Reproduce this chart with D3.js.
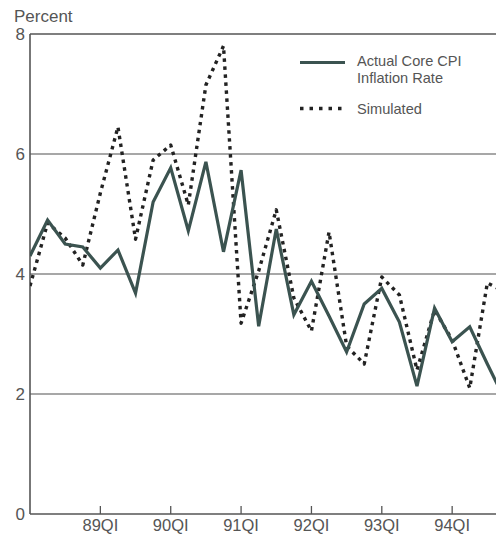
<!DOCTYPE html>
<html>
<head>
<meta charset="utf-8">
<script src="https://cdn.jsdelivr.net/npm/d3@7"></script>
<style>
  html, body { margin: 0; padding: 0; background: #fff; }
  svg { display: block; font-family: "Liberation Sans", Arial, Helvetica, sans-serif; }
</style>
</head>
<body>
<svg id="chart" width="496" height="535"></svg>
<script>
// ---- data ----
const quarters = ["88Q1","88Q2","88Q3","88Q4","89Q1","89Q2","89Q3","89Q4",
                  "90Q1","90Q2","90Q3","90Q4","91Q1","91Q2","91Q3","91Q4",
                  "92Q1","92Q2","92Q3","92Q4","93Q1","93Q2","93Q3","93Q4",
                  "94Q1","94Q2","94Q3","94Q4"];
const actual    = [4.3, 4.9, 4.5, 4.45, 4.1, 4.4, 3.68, 5.2, 5.77, 4.72, 5.87, 4.37, 5.73, 3.13,
                   4.75, 3.32, 3.88, 3.3, 2.7, 3.5, 3.76, 3.2, 2.13, 3.43, 2.87, 3.12, 2.5, 1.9];
const simulated = [3.8, 4.85, 4.6, 4.15, 5.35, 6.45, 4.58, 5.9, 6.15, 5.15, 7.15, 7.8, 3.18, 4.05,
                   5.07, 3.6, 3.05, 4.7, 2.8, 2.5, 3.95, 3.65, 2.4, 3.4, 2.9, 2.1, 3.85, 3.7];
const tickQuarters = ["89Q1","90Q1","91Q1","92Q1","93Q1","94Q1"];
const tickLabels   = ["89QI","90QI","91QI","92QI","93QI","94QI"];
const yTicks = [0, 2, 4, 6, 8];
const legendLabels = [["Actual Core CPI", "Inflation Rate"], ["Simulated"]];

// ---- layout ----
const W = 496, H = 535;
const mLeft = 30, mTop = 34, mBottom = 514;
const qStep = 17.59;

const svg = d3.select("#chart");
const x = d3.scalePoint().domain(quarters).range([mLeft, mLeft + qStep * (quarters.length - 1)]);
const y = d3.scaleLinear().domain([0, 8]).range([mBottom, mTop]);

svg.append("defs").append("clipPath").attr("id", "clip")
  .append("rect").attr("x", mLeft).attr("y", 0).attr("width", W - mLeft).attr("height", H);

// gridlines
svg.append("g").selectAll("line").data(yTicks.filter(d => d > 0)).join("line")
  .attr("x1", mLeft).attr("x2", W)
  .attr("y1", d => y(d)).attr("y2", d => y(d))
  .attr("stroke", d => d === 8 ? "#555" : "#8a8a8a")
  .attr("stroke-width", d => d === 8 ? 1.5 : 1.3);

// axes lines
svg.append("line").attr("x1", mLeft).attr("x2", mLeft).attr("y1", y(8)).attr("y2", y(0))
  .attr("stroke", "#555").attr("stroke-width", 1.6);
svg.append("line").attr("x1", mLeft).attr("x2", W).attr("y1", y(0)).attr("y2", y(0))
  .attr("stroke", "#555").attr("stroke-width", 1.6);

// x ticks
svg.append("g").selectAll("line").data(tickQuarters).join("line")
  .attr("x1", d => x(d)).attr("x2", d => x(d))
  .attr("y1", y(0) - 8).attr("y2", y(0))
  .attr("stroke", "#555").attr("stroke-width", 1.3);
svg.append("g").selectAll("text").data(tickQuarters).join("text")
  .attr("x", d => x(d)).attr("y", 530.5)
  .attr("text-anchor", "middle")
  .attr("font-size", 16.5).attr("fill", "#555")
  .text((d, i) => tickLabels[i]);

// y labels
svg.append("g").selectAll("text").data(yTicks).join("text")
  .attr("x", 25).attr("y", d => y(d))
  .attr("dy", "0.36em")
  .attr("text-anchor", "end")
  .attr("font-size", 17).attr("fill", "#555")
  .text(d => d);

svg.append("text").attr("x", 14).attr("y", 21.5)
  .attr("font-size", 17).attr("fill", "#555").text("Percent");

// lines
const line = d3.line().x((d, i) => x(quarters[i])).y(d => y(d));
const g = svg.append("g").attr("clip-path", "url(#clip)");
g.append("path").datum(simulated).attr("d", line)
  .attr("fill", "none").attr("stroke", "#222").attr("stroke-width", 3.4)
  .attr("stroke-dasharray", "3.5,4.5").attr("stroke-linejoin", "round");
g.append("path").datum(actual).attr("d", line)
  .attr("fill", "none").attr("stroke", "#3b5350").attr("stroke-width", 3.2)
  .attr("stroke-linejoin", "miter");

// legend
const lg = svg.append("g");
lg.append("line").attr("x1", 300).attr("x2", 345).attr("y1", 62.5).attr("y2", 62.5)
  .attr("stroke", "#3b5350").attr("stroke-width", 3.2);
lg.append("line").attr("x1", 300).attr("x2", 346).attr("y1", 108.5).attr("y2", 108.5)
  .attr("stroke", "#222").attr("stroke-width", 3.4).attr("stroke-dasharray", "3.5,6");
legendLabels[0].forEach((s, i) =>
  lg.append("text").attr("x", 357).attr("y", 66 + i * 16.5)
    .attr("font-size", 14.6).attr("fill", "#555").text(s));
lg.append("text").attr("x", 357).attr("y", 114).attr("font-size", 14.6).attr("fill", "#555")
  .text(legendLabels[1][0]);
</script>
</body>
</html>
